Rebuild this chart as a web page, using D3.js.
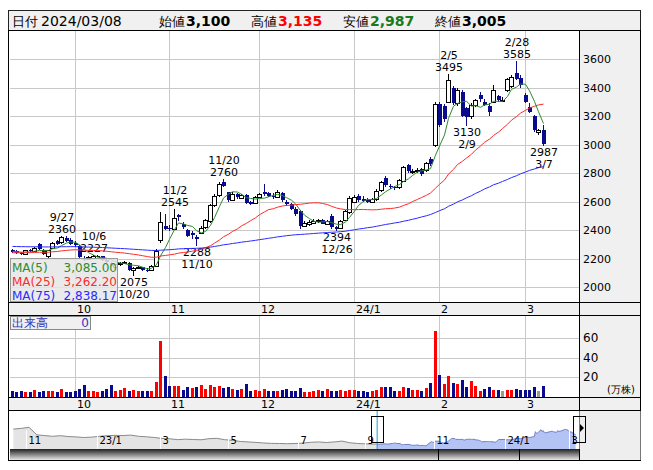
<!DOCTYPE html>
<html><head><meta charset="utf-8">
<script src="https://cdn.jsdelivr.net/npm/d3@7"></script>
<style>body{margin:0;background:#fff}svg{display:block}text{font-family:"DejaVu Sans",Verdana,sans-serif}</style>
</head><body><svg id="c" width="653" height="470"></svg>
<script>
// ---------------- data ----------------
const dates = [
"2023-09-11","2023-09-12","2023-09-13","2023-09-14","2023-09-15","2023-09-19","2023-09-20","2023-09-21","2023-09-22","2023-09-25","2023-09-26","2023-09-27","2023-09-28","2023-09-29",
"2023-10-02","2023-10-03","2023-10-04","2023-10-05","2023-10-06","2023-10-10","2023-10-11","2023-10-12","2023-10-13","2023-10-16","2023-10-17","2023-10-18","2023-10-19","2023-10-20","2023-10-23","2023-10-24","2023-10-25","2023-10-26","2023-10-27","2023-10-30","2023-10-31",
"2023-11-01","2023-11-02","2023-11-06","2023-11-07","2023-11-08","2023-11-09","2023-11-10","2023-11-13","2023-11-14","2023-11-15","2023-11-16","2023-11-17","2023-11-20","2023-11-21","2023-11-22","2023-11-24","2023-11-27","2023-11-28","2023-11-29","2023-11-30",
"2023-12-01","2023-12-04","2023-12-05","2023-12-06","2023-12-07","2023-12-08","2023-12-11","2023-12-12","2023-12-13","2023-12-14","2023-12-15","2023-12-18","2023-12-19","2023-12-20","2023-12-21","2023-12-22","2023-12-25","2023-12-26","2023-12-27","2023-12-28","2023-12-29",
"2024-01-04","2024-01-05","2024-01-09","2024-01-10","2024-01-11","2024-01-12","2024-01-15","2024-01-16","2024-01-17","2024-01-18","2024-01-19","2024-01-22","2024-01-23","2024-01-24","2024-01-25","2024-01-26","2024-01-29","2024-01-30","2024-01-31",
"2024-02-01","2024-02-02","2024-02-05","2024-02-06","2024-02-07","2024-02-08","2024-02-09","2024-02-13","2024-02-14","2024-02-15","2024-02-16","2024-02-19","2024-02-20","2024-02-21","2024-02-22","2024-02-26","2024-02-27","2024-02-28","2024-02-29",
"2024-03-01","2024-03-04","2024-03-05","2024-03-06","2024-03-07"];
const open = [2260,2250,2242,2232,2262,2252,2300,2262,2215,2272,2322,2315,2345,2330,
2312,2290,2200,2195,2205,2205,2215,2188,2170,2140,2160,2168,2170,2118,2132,2138,2122,2120,2150,2330,2430,
2415,2410,2505,2440,2400,2380,2350,2380,2420,2460,2575,2645,2740,2665,2612,2652,2628,2645,2600,2590,
2630,2665,2660,2640,2630,2660,2600,2585,2545,2530,2430,2445,2450,2460,2470,2445,2495,2420,2412,2470,2525,
2600,2640,2615,2610,2598,2615,2680,2765,2712,2702,2700,2745,2855,2810,2815,2830,2820,2900,3000,
3285,3270,3300,3395,3290,3370,3255,3200,3280,3350,3300,3270,3300,3340,3310,3380,3410,3500,3470,
3350,3260,3200,3085,3100];
const high = [2270,2258,2248,2262,2268,2282,2312,2270,2262,2318,2330,2360,2355,2342,
2320,2295,2215,2215,2227,2225,2220,2195,2175,2162,2178,2185,2172,2140,2148,2142,2130,2155,2268,2525,2515,
2435,2545,2512,2455,2410,2395,2362,2425,2480,2580,2650,2735,2760,2670,2668,2660,2650,2652,2605,2640,
2660,2725,2665,2660,2680,2665,2610,2590,2560,2540,2460,2470,2475,2480,2478,2470,2510,2430,2470,2540,2640,
2645,2650,2640,2625,2625,2685,2745,2780,2720,2712,2760,2850,2862,2830,2835,2835,2880,2910,3300,
3300,3285,3495,3410,3400,3380,3260,3290,3320,3370,3320,3290,3420,3350,3330,3470,3490,3585,3490,
3360,3290,3210,3110,3135];
const low = [2240,2235,2222,2228,2245,2248,2262,2222,2205,2268,2295,2305,2315,2292,
2280,2198,2180,2190,2198,2195,2185,2165,2140,2132,2150,2160,2115,2075,2125,2110,2105,2115,2145,2310,2400,
2395,2400,2460,2410,2350,2335,2288,2370,2410,2450,2560,2630,2700,2600,2605,2618,2618,2580,2575,2585,
2625,2640,2630,2620,2625,2600,2570,2540,2500,2410,2420,2430,2440,2450,2440,2440,2410,2394,2405,2460,2515,
2590,2600,2595,2590,2590,2605,2670,2700,2690,2680,2690,2735,2800,2790,2800,2780,2810,2850,2980,
3120,3160,3290,3280,3270,3190,3130,3180,3260,3300,3270,3200,3290,3300,3295,3370,3400,3450,3400,
3290,3220,3090,3070,2987];
const close = [2248,2242,2230,2258,2250,2275,2268,2232,2258,2310,2302,2350,2322,2300,
2292,2210,2195,2208,2218,2220,2190,2172,2148,2158,2170,2178,2122,2135,2140,2120,2115,2150,2255,2455,2410,
2405,2485,2492,2420,2360,2368,2335,2415,2470,2575,2640,2725,2712,2610,2655,2630,2645,2592,2585,2635,
2650,2655,2640,2635,2670,2610,2580,2550,2510,2430,2450,2458,2465,2470,2445,2460,2420,2408,2460,2530,2625,
2635,2610,2605,2598,2618,2675,2735,2715,2700,2695,2750,2840,2812,2815,2820,2790,2870,2860,3285,
3140,3180,3450,3290,3380,3200,3195,3280,3310,3320,3280,3225,3380,3310,3310,3460,3475,3460,3420,
3300,3230,3100,3100,3005];
const volume = [6,5,6,5,5,7,5,6,6,6,5,8,5,5,
6,8,12,6,6,5,6,8,12,6,7,9,6,7,6,6,6,6,15,57,21,
11,11,11,7,10,9,10,12,8,12,10,11,9,10,8,7,8,13,6,7,
6,8,6,6,6,7,8,6,6,9,5,5,6,7,6,8,6,6,7,6,7,
7,6,6,5,6,7,10,10,10,6,6,10,9,7,7,6,9,14,67,
22,13,21,14,13,17,10,16,11,6,8,10,7,7,6,7,7,8,7,
7,7,10,6,11];

const priceTicks = [2000,2200,2400,2600,2800,3000,3200,3400,3600];
const volTicks = [20,40,60];
const monthLabels = ["10","11","12","24/1","2","3"];

const markDates = ["2023-09-27","2023-10-06","2023-10-20","2023-11-02","2023-11-10","2023-11-20","2023-12-26","2024-02-05","2024-02-09","2024-02-28","2024-03-07"];
const markKinds = ["high","high","low","high","low","high","low","high","low","high","low"];

const maPeriods = [5,25,75];
const maSeeds = [2250,2240,2285];
const maLabels = ["MA(5)","MA(25)","MA(75)"];
const maValueText = ["3,085.00","3,262.20","2,838.17"];
const maColors = ["#2e8b2e","#ff2a2a","#2a2aff"];

const headerLabels = ["始値","高値","安値","終値"];
const headerValues = ["3,100","3,135","2,987","3,005"];
const headerColors = ["#000","#ff0000","#1a7a1a","#000"];
const headerDate = "2024/03/08";

// navigator (weekly closes before the detailed range)
const navDates = ["2022-10-21","2022-10-28","2022-11-04","2022-11-11","2022-11-18","2022-11-25","2022-12-02","2022-12-09","2022-12-16","2022-12-23","2022-12-30",
"2023-01-06","2023-01-13","2023-01-20","2023-01-27","2023-02-03","2023-02-10","2023-02-17","2023-02-24","2023-03-03","2023-03-10","2023-03-17","2023-03-24","2023-03-31",
"2023-04-07","2023-04-14","2023-04-21","2023-04-28","2023-05-05","2023-05-12","2023-05-19","2023-05-26","2023-06-02","2023-06-09","2023-06-16","2023-06-23","2023-06-30",
"2023-07-07","2023-07-14","2023-07-21","2023-07-28","2023-08-04","2023-08-11","2023-08-18","2023-08-25","2023-09-01","2023-09-08"];
const navCloses = [3500,3560,3650,3020,2960,2900,2950,2880,2850,2800,2830,
2900,2950,2980,2960,3000,2900,2860,2800,2720,2690,2620,2660,2630,
2610,2700,2730,2620,2560,2470,2430,2390,2340,2310,2300,2280,2300,
2330,2400,2430,2380,2430,2500,2360,2300,2270,2250];
const navMonthDates = ["2022-11-01","2023-01-04","2023-03-01","2023-05-01","2023-07-03","2023-09-01","2023-11-01","2024-01-04","2024-03-01"];
const navMonthLabels = ["11","23/1","3","5","7","9","11","24/1","3"];

// ---------------- drawing ----------------
const svg = d3.select("#c");
const parse = d3.timeParse("%Y-%m-%d");
const N = dates.length;

const L = 10, R = 579, W = 641;
const mainTop = 31, mainBot = 302;
const volTop = 316, volBot = 397;
const navTop = 411, navBot = 449;

const x = d3.scaleBand().domain(dates).range([9.25, 9.25 + 4.5 * N]);
const cx = d => Math.round(x(d) + x.bandwidth() / 2);
const y = d3.scaleLinear().domain([2000, 3600]).range([287, 59]);
const yv = d3.scaleLinear().domain([0, 60]).range([396.5, 338]);

svg.append("rect").attr("width", 653).attr("height", 470).attr("fill", "#fff");

// header
const hdr = svg.append("g");
hdr.append("rect").attr("x", 8.5).attr("y", 10.5).attr("width", 632).attr("height", 20).attr("fill", "#f0f0f0").attr("stroke", "#222");
hdr.append("text").attr("x", 12).attr("y", 26).attr("font-size", 13).attr("font-family", "Noto Sans CJK JP").text("日付");
hdr.append("text").attr("x", 41).attr("y", 26).attr("font-size", 14).text(headerDate);
const hx = [159, 251, 343, 435];
headerLabels.forEach((t, k) => {
  hdr.append("text").attr("x", hx[k]).attr("y", 26).attr("font-size", 13).attr("font-family", "Noto Sans CJK JP").text(t);
  hdr.append("text").attr("x", hx[k] + 27).attr("y", 26).attr("font-size", 14).attr("font-weight", "bold").attr("fill", headerColors[k]).text(headerValues[k]);
});

// panel backgrounds
svg.append("rect").attr("x", R).attr("y", 30.5).attr("width", W - R).attr("height", 380).attr("fill", "#f0f0f0");
svg.append("rect").attr("x", 8.5).attr("y", mainBot).attr("width", W - 8.5).attr("height", 14).attr("fill", "#f0f0f0");
svg.append("rect").attr("x", 8.5).attr("y", volBot).attr("width", W - 8.5).attr("height", 14).attr("fill", "#f0f0f0");

const monthStarts = dates.filter((d, i) => i > 0 && d.slice(5, 7) !== dates[i - 1].slice(5, 7));

const grid = svg.append("g").attr("stroke", "#c8c8c8").attr("shape-rendering", "crispEdges");
priceTicks.forEach(p => grid.append("line").attr("x1", L).attr("x2", R).attr("y1", Math.round(y(p)) + 0.5).attr("y2", Math.round(y(p)) + 0.5));
volTicks.forEach(v => grid.append("line").attr("x1", L).attr("x2", R).attr("y1", Math.round(yv(v)) + 0.5).attr("y2", Math.round(yv(v)) + 0.5));
monthStarts.forEach(d => {
  grid.append("line").attr("x1", cx(d) + 0.5).attr("x2", cx(d) + 0.5).attr("y1", mainTop).attr("y2", mainBot);
  grid.append("line").attr("x1", cx(d) + 0.5).attr("x2", cx(d) + 0.5).attr("y1", volTop).attr("y2", volBot);
});

// axis labels
const axTxt = svg.append("g").attr("font-size", 11).attr("fill", "#000");
priceTicks.forEach(p => axTxt.append("text").attr("x", 583).attr("y", y(p) + 4).text(p));
volTicks.forEach(v => axTxt.append("text").attr("x", 583).attr("y", yv(v) + 4).attr("font-size", 12).text(v));
axTxt.append("text").attr("x", 607).attr("y", 393).attr("font-size", 10).attr("font-family", "Noto Sans CJK JP").text("(万株)");
monthStarts.forEach((d, k) => {
  axTxt.append("text").attr("x", cx(d) + 2).attr("y", 313).text(monthLabels[k]);
  axTxt.append("text").attr("x", cx(d) + 2).attr("y", 408).text(monthLabels[k]);
});

// high/low annotations
const ann = svg.append("g").attr("font-size", 11).attr("text-anchor", "middle").attr("fill", "#000");
markDates.forEach((d, k) => {
  const i = dates.indexOf(d);
  const dt = parse(d);
  const lbl = (dt.getMonth() + 1) + "/" + dt.getDate();
  if (markKinds[k] === "high") {
    const yy = y(high[i]);
    ann.append("text").attr("x", cx(d) + 1).attr("y", yy - 15).text(lbl);
    ann.append("text").attr("x", cx(d) + 1).attr("y", yy - 3).text(high[i]);
  } else {
    const yy = y(low[i]);
    ann.append("text").attr("x", cx(d) + 1).attr("y", yy + 10).text(low[i]);
    ann.append("text").attr("x", cx(d) + 1).attr("y", yy + 22).text(lbl);
  }
});

// candles
const cg = svg.append("g").attr("shape-rendering", "crispEdges");
dates.forEach((d, i) => {
  const c = cx(d);
  const up = close[i] >= open[i];
  const col = up ? "#000" : "#0a0a8c";
  cg.append("line").attr("x1", c + 0.5).attr("x2", c + 0.5).attr("y1", y(high[i])).attr("y2", y(low[i])).attr("stroke", col);
  const top = Math.round(y(Math.max(open[i], close[i])));
  const bot = Math.round(y(Math.min(open[i], close[i])));
  if (up) {
    cg.append("rect").attr("x", c - 1.5).attr("y", top + 0.5).attr("width", 4).attr("height", Math.max(bot - top, 1))
      .attr("fill", "#fff").attr("stroke", "#000");
  } else {
    cg.append("rect").attr("x", c - 1).attr("y", top).attr("width", 4).attr("height", Math.max(bot - top, 1)).attr("fill", "#0a0a8c");
  }
});

// moving averages (window filled with the seed level where the shown data is shorter than the period)
maPeriods.forEach((p, k) => {
  const vals = close.map((c, i) => {
    const win = close.slice(Math.max(0, i - p + 1), i + 1);
    return (d3.sum(win) + (p - win.length) * maSeeds[k]) / p;
  });
  const line = d3.line().x((v, i) => cx(dates[i]) + 0.5).y(v => y(v));
  svg.append("path").attr("d", line(vals)).attr("fill", "none").attr("stroke", maColors[k]).attr("stroke-width", 1);
});

// volume bars
const vg = svg.append("g").attr("shape-rendering", "crispEdges");
dates.forEach((d, i) => {
  const prev = i > 0 ? close[i - 1] : open[i];
  const col = close[i] > prev ? "#ff0000" : close[i] < prev ? "#0a0a8c" : "#999999";
  vg.append("rect").attr("x", cx(d) - 1).attr("y", yv(volume[i])).attr("width", 3).attr("height", yv(0) - yv(volume[i])).attr("fill", col);
});

// MA legend box
const lg = svg.append("g");
lg.append("rect").attr("x", 10.5).attr("y", 258.5).attr("width", 107).attr("height", 43).attr("fill", "#e6e6e6").attr("fill-opacity", 0.85).attr("stroke", "#999");
maLabels.forEach((t, k) => {
  lg.append("text").attr("x", 12).attr("y", 272 + k * 14).attr("font-size", 12).attr("fill", maColors[k]).text(t);
  lg.append("text").attr("x", 117).attr("y", 272 + k * 14).attr("font-size", 12).attr("text-anchor", "end").attr("fill", maColors[k]).text(maValueText[k]);
});

// volume legend box
const vlg = svg.append("g");
vlg.append("rect").attr("x", 10.5).attr("y", 316.5).attr("width", 80).attr("height", 13).attr("fill", "#f0f0f0").attr("stroke", "#888");
vlg.append("text").attr("x", 12).attr("y", 327).attr("font-size", 12).attr("font-family", "Noto Sans CJK JP").attr("fill", "#3333bb").text("出来高");
vlg.append("text").attr("x", 89).attr("y", 327).attr("font-size", 12).attr("text-anchor", "end").attr("fill", "#3333bb").text("0");

// frame lines
const fr = svg.append("g").attr("stroke", "#000").attr("fill", "none").attr("shape-rendering", "crispEdges");
fr.append("rect").attr("x", 8.5).attr("y", 30.5).attr("width", 632).attr("height", 380);
fr.append("line").attr("x1", R + 0.5).attr("x2", R + 0.5).attr("y1", 30).attr("y2", 410);
[mainBot, 315, volBot, 410].forEach(yy => fr.append("line").attr("x1", 8).attr("x2", W).attr("y1", yy + 0.5).attr("y2", yy + 0.5));

// navigator
const nx = d3.scaleTime().domain([parse("2022-10-18"), parse("2024-03-10")]).range([L, R]);
const ny = d3.scaleLinear().domain([1840, 5010]).range([navBot, navTop]);
const navSeries = navDates.map((d, k) => ({ t: parse(d), v: navCloses[k] }))
  .concat(dates.map((d, i) => ({ t: parse(d), v: close[i] })));
const ng = svg.append("g");
ng.append("rect").attr("x", 8.5).attr("y", 410.5).attr("width", 632).attr("height", 50).attr("fill", "#fff").attr("stroke", "#000");
ng.append("rect").attr("x", R).attr("y", 411).attr("width", W - R - 0.5).attr("height", 49).attr("fill", "#eeeeee");
const selX = nx(parse(dates[0]));
const defs = svg.append("defs");
defs.append("clipPath").attr("id", "cl").append("rect").attr("x", 0).attr("y", 0).attr("width", selX).attr("height", 470);
defs.append("clipPath").attr("id", "cr").append("rect").attr("x", selX).attr("y", 0).attr("width", R - selX).attr("height", 470);
const gr = defs.append("linearGradient").attr("id", "sb").attr("x1", 0).attr("x2", 0).attr("y1", 0).attr("y2", 1);
gr.append("stop").attr("offset", "0%").attr("stop-color", "#202020");
gr.append("stop").attr("offset", "100%").attr("stop-color", "#e8e8e8");
const area = d3.area().x(p => nx(p.t)).y0(navBot).y1(p => ny(p.v));
const nline = d3.line().x(p => nx(p.t)).y(p => ny(p.v));
ng.append("path").attr("d", area(navSeries)).attr("fill", "#e4e4e4").attr("clip-path", "url(#cl)");
ng.append("path").attr("d", area(navSeries)).attr("fill", "#b3c3f3").attr("clip-path", "url(#cr)");
ng.append("path").attr("d", nline(navSeries)).attr("fill", "none").attr("stroke", "#8a8a8a").attr("clip-path", "url(#cl)");
ng.append("path").attr("d", nline(navSeries)).attr("fill", "none").attr("stroke", "#7080c8").attr("clip-path", "url(#cr)");
navMonthDates.forEach((d, k) => {
  const xx = Math.round(nx(parse(d))) + 0.5;
  ng.append("line").attr("x1", xx).attr("x2", xx).attr("y1", 430).attr("y2", navBot).attr("stroke", "#fff");
  ng.append("text").attr("x", xx + 2).attr("y", 444).attr("font-size", 10).text(navMonthLabels[k]);
});
ng.append("rect").attr("x", L).attr("y", navBot).attr("width", R - L).attr("height", 11).attr("fill", "url(#sb)");
[438.5, 519.5, R + 0.5].forEach(xx => ng.append("line").attr("x1", xx).attr("x2", xx).attr("y1", navBot).attr("y2", 460).attr("stroke", "#000"));
ng.append("line").attr("x1", selX + 0.5).attr("x2", selX + 0.5).attr("y1", 411).attr("y2", navBot).attr("stroke", "#1aa0d8");
ng.append("line").attr("x1", R + 0.5).attr("x2", R + 0.5).attr("y1", 411).attr("y2", navBot).attr("stroke", "#1aa0d8");
ng.append("rect").attr("x", Math.round(selX) - 5.5).attr("y", 416.5).attr("width", 12).attr("height", 26).attr("fill", "none").attr("stroke", "#000");
ng.append("rect").attr("x", R - 5.5).attr("y", 416.5).attr("width", 12).attr("height", 26).attr("fill", "none").attr("stroke", "#000");
ng.append("path").attr("d", `M${R + 1},424 L${R + 5},428 L${R + 1},432 Z`).attr("fill", "#000");
</script>
</body></html>
